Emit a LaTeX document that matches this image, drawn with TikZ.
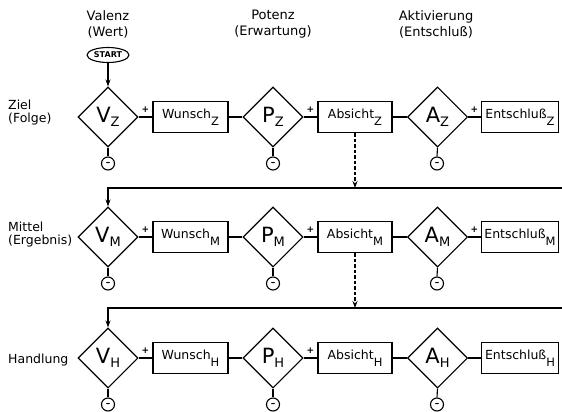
\documentclass[tikz,border=0pt]{standalone}
\usepackage{fontspec}
\setmainfont{DejaVu Sans}
\usetikzlibrary{shapes.geometric,arrows.meta}
\newcommand{\dsub}[2]{#1\raisebox{-4pt}{\fontsize{13}{13}\selectfont #2}}
\newcommand{\bsub}[2]{#1\raisebox{-7pt}{\fontsize{11.5}{11.5}\selectfont #2}}
\begin{document}
\begin{tikzpicture}[x=1pt,y=-1pt,
  dia/.style={diamond, draw, line width=1.1pt, minimum width=60pt, minimum height=60pt, inner sep=0pt, aspect=1, font=\fontsize{21}{21}\selectfont},
  box/.style={draw, line width=1.1pt, minimum height=31pt, inner sep=0pt, font=\fontsize{12.5}{12.5}\selectfont},
  neg/.style={circle, draw, line width=1.1pt, minimum size=13pt, inner sep=0pt, font=\fontsize{9}{9}\selectfont\bfseries},
  toplbl/.style={font=\fontsize{13}{16}\selectfont, align=center},
  sidelbl/.style={font=\fontsize{12.5}{13}\selectfont, align=left, anchor=west, inner sep=0pt},
  conn/.style={line width=1.1pt},
  arr/.style={line width=1.1pt, -{Stealth[length=7pt,width=5pt]}},
  darr/.style={line width=1.1pt, dash pattern=on 3.5pt off 2pt, -{Stealth[length=7pt,width=5pt]}},
  plus/.style={font=\fontsize{9}{9}\selectfont\bfseries, inner sep=0pt},
]
\useasboundingbox (0,0) rectangle (562,412);

% column headings
\node[toplbl] (hV) at (108,24) {Valenz\\(Wert)};
\node[toplbl] (hP) at (273,24) {Potenz\\(Erwartung)};
\node[toplbl] (hA) at (436,24) {Aktivierung\\(Entschluß)};

% side labels
\node[sidelbl] (sZ) at (8,113) {Ziel\\(Folge)};
\node[sidelbl] (sM) at (8,235) {Mittel\\(Ergebnis)};
\node[sidelbl] (sH) at (8,360) {Handlung};

% start
\node[ellipse, draw, line width=1.1pt, minimum width=42pt, minimum height=15pt, inner sep=0pt, font=\fontsize{8}{8}\selectfont\bfseries] (start) at (108,55) {START};

\foreach \r/\y in {Z/117, M/237, H/358} {
  \node[dia] (V\r) at (108,\y) {\dsub{V}{\r}};
  \node[box, minimum width=75pt] (W\r) at (190.5,\y) {\bsub{Wunsch}{\r}};
  \node[dia] (P\r) at (273,\y) {\dsub{P}{\r}};
  \node[box, minimum width=74pt] (B\r) at (355,\y) {\bsub{Absicht}{\r}};
  \node[dia] (A\r) at (437.5,\y) {\dsub{A}{\r}};
  \node[box, minimum width=77pt] (E\r) at (520,\y) {\bsub{Entschluß}{\r}};
  \node[neg] (nV\r) at (108,\y+46.5) {–};
  \node[neg] (nP\r) at (273,\y+46.5) {–};
  \node[neg] (nA\r) at (437,\y+46.5) {–};
  \draw[conn] (V\r.east) -- (W\r.west) node[plus, midway, above=4pt] {+};
  \draw[conn] (W\r.east) -- (P\r.west);
  \draw[conn] (P\r.east) -- (B\r.west) node[plus, midway, above=4pt] {+};
  \draw[conn] (B\r.east) -- (A\r.west);
  \draw[conn] (V\r.south) -- (nV\r.north);
  \draw[conn] (P\r.south) -- (nP\r.north);
  \draw[conn] (A\r.south) -- (nA\r.north);
}
\draw[conn] (AZ.east) -- (EZ.west) node[plus, midway, above=4pt] {+};
\draw[conn] (AM.east) -- (EM.west) node[plus, midway, above=4pt] {+};
\draw[conn] (AH.east) -- (EH.west);

\draw[arr] (start) -- (VZ.north);

% return lines
\coordinate (rM) at (562,188);
\coordinate (rH) at (562,308);
\draw[arr] (rM) -| (VM.north);
\draw[arr] (rH) -| (VH.north);

% dashed arrows
\draw[darr] (BZ.south) -- (BZ.south |- rM);
\draw[darr] (BM.south) -- (BM.south |- rH);
\end{tikzpicture}
\end{document}
